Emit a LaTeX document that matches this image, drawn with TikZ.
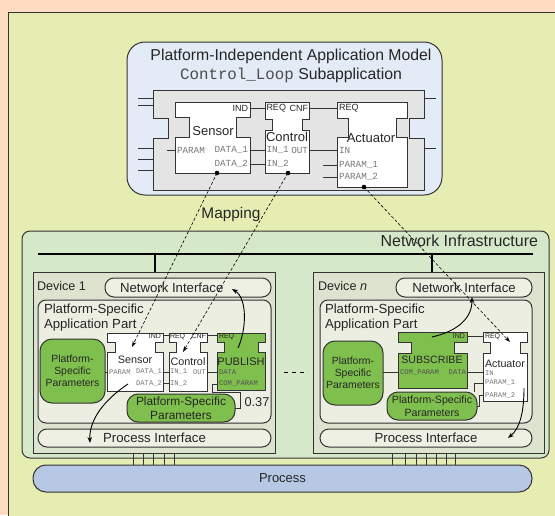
\documentclass[tikz,border=0pt]{standalone}
\usepackage{fontspec}
\setmainfont{Liberation Sans}
\setmonofont{Liberation Mono}
\usetikzlibrary{arrows.meta}

\definecolor{margin}{HTML}{FDDCC2}
\definecolor{panel}{HTML}{E5EDB2}
\definecolor{pimblue}{HTML}{E3EBF6}
\definecolor{subgray}{HTML}{E4E4E4}
\definecolor{netgreen}{HTML}{D6E8CA}
\definecolor{devfill}{HTML}{DEE3D0}
\definecolor{partfill}{HTML}{EBEEE1}
\definecolor{iffill}{HTML}{EDF0E3}
\definecolor{fbgreen}{HTML}{7FBF4D}
\definecolor{procblue}{HTML}{B6C8E4}
\definecolor{edge}{HTML}{333333}
\definecolor{ink}{HTML}{262626}
\definecolor{porttext}{HTML}{777777}

% function block outline: style, left, top, right, bottom, neck top, neck bottom, notch depth
\newcommand{\fbblock}[8]{%
  \draw[#1] (#2,#3) -- (#4,#3) -- (#4,#6) -- (#4-#8,#6) -- (#4-#8,#7) -- (#4,#7)
    -- (#4,#5) -- (#2,#5) -- (#2,#7) -- (#2+#8,#7) -- (#2+#8,#6) -- (#2,#6) -- cycle;}
\newcommand{\fsize}[2]{\fontsize{#1}{#2}\selectfont}

\tikzset{
  every node/.style={inner sep=0pt, outer sep=0pt, text=ink},
  frame/.style={draw=edge, line width=1pt},
  iface/.style={frame, fill=iffill, rounded corners=9pt, anchor=north west},
  greenbox/.style={frame, fill=fbgreen, anchor=north west, align=center},
  wire/.style={draw=edge, line width=0.8pt},
  bus/.style={draw=black, line width=1.5pt},
  mapline/.style={draw=black, line width=0.6pt, dash pattern=on 3pt off 2pt,
    -{Stealth[length=6pt,width=4pt]}},
  flow/.style={draw=black, line width=0.9pt, -{Stealth[length=6pt,width=4.5pt]}},
  biglbl/.style={font=\fsize{13.2}{15}},
  fbname/.style={font=\fsize{10.8}{12}},
  topname/.style={font=\fsize{13}{15}},
  evt/.style={font=\fsize{7}{8}},
  topevt/.style={font=\fsize{9}{10}},
  port/.style={font=\fsize{7.2}{8}\ttfamily, text=porttext},
  topport/.style={font=\fsize{9.3}{10}\ttfamily, text=porttext},
}

\begin{document}
\begin{tikzpicture}[x=1pt,y=-1pt]
\useasboundingbox (0,0) rectangle (555,515);
\fill[margin] (0,0) rectangle (555,515);
\draw[frame, fill=panel] (8.5,12.5) rectangle (600,600);

% ---------------- platform-independent model ----------------
\node[frame, fill=pimblue, rounded corners=18pt, minimum width=315pt,
  minimum height=153pt, anchor=north west] (pim) at (127,42) {};
\node[font=\fsize{15.8}{18}] (pimtitle) at (291,56) {Platform-Independent Application Model};
\node[font=\fsize{15.8}{18}] (pimsub) at (291,75)
  {{\ttfamily\color{black!70}Control\_Loop} Subapplication};

\fbblock{frame, fill=subgray}{153}{90}{424}{190}{118}{138}{15}
\foreach \y in {98,105,148,159,170} \draw[wire] (138,\y) -- (153,\y);
\foreach \y in {98,148} \draw[wire] (424,\y) -- (436,\y);

\fbblock{frame, fill=white}{175}{102}{250}{173}{117}{137}{14}
\fbblock{frame, fill=white}{265}{102}{309}{173}{119}{130}{7}
\fbblock{frame, fill=white}{337}{102}{407}{187}{118}{137}{11}

% ports of the subapplication members
\coordinate (sIND) at (250,108);  \coordinate (cREQ) at (265,108);
\coordinate (cCNF) at (309,108);  \coordinate (aREQ) at (337,108);
\coordinate (sD1) at (250,150);   \coordinate (cI1) at (265,150);
\coordinate (sD2) at (250,164);   \coordinate (cI2) at (265,164);
\coordinate (cOUT) at (309,150);  \coordinate (aIN) at (337,150);
\coordinate (sPAR) at (175,150);  \coordinate (sPARin) at (167,150);
\coordinate (aP1) at (337,165);   \coordinate (aP1in) at (323,165);
\coordinate (aP2) at (337,177);   \coordinate (aP2in) at (323,177);

\draw[wire] (sIND) -- (cREQ);
\draw[wire] (cCNF) -- (aREQ);
\draw[wire] (sD1) -- (cI1);
\draw[wire] (sD2) -- (cI2);
\draw[wire] (cOUT) -- (aIN);
\draw[wire] (sPARin) -- (sPAR);
\draw[wire] (aP1in) -- (aP1);
\draw[wire] (aP2in) -- (aP2);

\node[topname] (tsensor) at (213,131) {Sensor};
\node[topname] (tcontrol) at (287,137) {Control};
\node[topname] (tactuator) at (371,138) {Actuator};
\node[topevt, anchor=east] (tsind) at (248,108) {IND};
\node[topevt, anchor=west] (tcreq) at (266.5,108) {REQ};
\node[topevt, anchor=east] (tccnf) at (308,108) {CNF};
\node[topevt, anchor=west] (tareq) at (339,108) {REQ};
\node[topport, anchor=west] (tspar) at (177,150) {PARAM};
\node[topport, anchor=east] (tsd1) at (248,150) {DATA\_1};
\node[topport, anchor=east] (tsd2) at (248,164) {DATA\_2};
\node[topport, anchor=west] (tci1) at (266.5,150) {IN\_1};
\node[topport, anchor=east] (tcout) at (308,150) {OUT};
\node[topport, anchor=west] (tci2) at (266.5,164) {IN\_2};
\node[topport, anchor=west] (tain) at (339,150) {IN};
\node[topport, anchor=west] (tap1) at (339,165) {PARAM\_1};
\node[topport, anchor=west] (tap2) at (339,177) {PARAM\_2};

\coordinate (mapS) at (217,173);
\coordinate (mapC) at (288,173);
\coordinate (mapA) at (364,187);
\foreach \c in {mapS,mapC,mapA} \fill[black] (\c) circle (2.3pt);

\node[font=\fsize{15.4}{18}] (mapping) at (231,215) {Mapping};

% ---------------- network infrastructure ----------------
\node[frame, fill=netgreen, rounded corners=8pt, minimum width=527pt,
  minimum height=227pt, anchor=north west] (net) at (22,231) {};
\node[font=\fsize{16}{18}, anchor=east] (netlbl) at (538,241) {Network Infrastructure};

\node[frame, fill=devfill, minimum width=242pt, minimum height=181pt,
  anchor=north west] (dev1) at (33,272) {};
\node[frame, fill=devfill, minimum width=231pt, minimum height=181pt,
  anchor=north west] (devn) at (313,272) {};

\coordinate (busL) at (38,254);
\coordinate (busR) at (533,254);
\coordinate (tap1) at (155,254);
\coordinate (tapn) at (432,254);
\draw[bus] (busL) -- (busR);
\draw[bus] (tap1) -- (tap1 |- dev1.north);
\draw[bus] (tapn) -- (tapn |- devn.north);

% ---------------- device 1 ----------------
\node[font=\fsize{12.6}{14}, anchor=west] (dev1lbl) at (37,286) {Device 1};
\node[iface, minimum width=166pt, minimum height=19pt] (ni1) at (105,278) {};
\node[biglbl, anchor=west] (ni1lbl) at (120,287.5) {Network Interface};
\node[frame, fill=partfill, rounded corners=8pt, minimum width=233pt,
  minimum height=123pt, anchor=north west] (part1) at (38,300) {};
\node[biglbl, anchor=north west, align=left] (part1lbl) at (44,304)
  {Platform-Specific\\Application Part};
\node[iface, minimum width=233pt, minimum height=18pt] (pi1) at (38,429) {};
\node[biglbl] (pi1lbl) at (pi1.center) {Process Interface};

\node[greenbox, rounded corners=12pt, minimum width=65pt, minimum height=64pt,
  font=\fsize{10.4}{12}] (psp1a) at (40,339) {Platform-\\Specific\\Parameters};
\node[greenbox, rounded corners=11pt, minimum width=108pt, minimum height=28pt,
  font=\fsize{11.9}{14}] (psp1b) at (127,394) {Platform-Specific\\Parameters};
\node[font=\fsize{12.8}{14}] (val) at (257,402) {0.37};

\fbblock{frame, fill=white}{107}{333}{163}{391}{342}{352}{8}
\fbblock{frame, fill=white}{169}{333}{207}{391}{342}{352}{7}
\fbblock{frame, fill=fbgreen}{217}{333}{265}{390}{342}{352}{7}

\coordinate (s1IND) at (163,335.5); \coordinate (c1REQ) at (169,335.5);
\coordinate (c1CNF) at (207,335.5); \coordinate (pREQ) at (217,335.5);
\coordinate (s1D1) at (163,372);    \coordinate (c1I1) at (169,372);
\coordinate (s1D2) at (163,383);    \coordinate (c1I2) at (169,383);
\coordinate (c1OUT) at (207,372);   \coordinate (pDATA) at (217,372);
\coordinate (s1PAR) at (107,372);   \coordinate (pCP) at (217,384);

\draw[wire] (s1IND) -- (c1REQ);
\draw[wire] (c1CNF) -- (pREQ);
\draw[wire] (s1D1) -- (c1I1);
\draw[wire] (s1D2) -- (c1I2);
\draw[wire] (c1OUT) -- (pDATA);
\draw[wire] (psp1a.east |- s1PAR) -- (s1PAR);
\draw[wire] (pCP) -- ++(-5,0) -- ++(0,8) -- ++(28,0) |- (psp1b.east);

\node[evt, anchor=east] (s1ind) at (161,336.5) {IND};
\node[fbname] (s1name) at (135,360) {Sensor};
\node[port, anchor=west] (s1par) at (109,372) {PARAM};
\node[port, anchor=east] (s1d1) at (162,372) {DATA\_1};
\node[port, anchor=east] (s1d2) at (162,383) {DATA\_2};
\node[evt, anchor=west] (c1req) at (170,336.5) {REQ};
\node[evt, anchor=east] (c1cnf) at (206,336.5) {CNF};
\node[fbname] (c1name) at (188,362) {Control};
\node[port, anchor=west] (c1i1) at (170,372) {IN\_1};
\node[port, anchor=east] (c1out) at (206,372) {OUT};
\node[port, anchor=west] (c1i2) at (170,383) {IN\_2};
\node[evt, anchor=west] (preq) at (219,336.5) {REQ};
\node[font=\fsize{11}{12}] (pname) at (241,362) {PUBLISH};
\node[port, anchor=west, text=ink!80] (pdata) at (219,372) {DATA};
\node[port, anchor=west, text=ink!80] (pcp) at (219,383) {COM\_PARAM};

\coordinate (pubOut) at (238,348);
\coordinate (ni1In) at (232,289);
\coordinate (s1Out) at (128,384);
\coordinate (pi1In) at (90,443);
\draw[flow] (pubOut) .. controls (247,328) and (247,298) .. (ni1In);
\draw[flow] (s1Out) .. controls (104,400) and (89,420) .. (pi1In);

% ---------------- device n ----------------
\node[font=\fsize{12.6}{14}, anchor=west] (devnlbl) at (318,286) {Device \textit{n}};
\node[iface, minimum width=136pt, minimum height=19pt] (nin) at (396,278) {};
\node[biglbl] (ninlbl) at (nin.center) {Network Interface};
\node[frame, fill=partfill, rounded corners=8pt, minimum width=212pt,
  minimum height=123pt, anchor=north west] (partn) at (320,300) {};
\node[biglbl, anchor=north west, align=left] (partnlbl) at (325,304)
  {Platform-Specific\\Application Part};
\node[iface, minimum width=212pt, minimum height=18pt] (pin) at (320,429) {};
\node[biglbl] (pinlbl) at (pin.center) {Process Interface};

\node[greenbox, rounded corners=12pt, minimum width=60pt, minimum height=64pt,
  font=\fsize{10.4}{12}] (psp2a) at (323,341) {Platform-\\Specific\\Parameters};
\node[greenbox, rounded corners=11pt, minimum width=90pt, minimum height=28pt,
  font=\fsize{10.6}{13.5}] (psp2b) at (387,392) {Platform-Specific\\Parameters};

\fbblock{frame, fill=fbgreen}{398}{332}{467}{388}{342}{353}{13}
\fbblock{frame, fill=white}{483}{332}{527}{401}{342}{353}{7}

\coordinate (subIND) at (467,336);  \coordinate (actREQ) at (483,336);
\coordinate (subDATA) at (467,372); \coordinate (actIN) at (483,372);
\coordinate (subCP) at (398,372);
\coordinate (actP1) at (483,383);   \coordinate (actP2) at (483,395);

\draw[wire] (subIND) -- (actREQ);
\draw[wire] (subDATA) -- (actIN);
\draw[wire] (psp2a.east |- subCP) -- (subCP);
\draw[wire] (actP1) -- ++(-9,0) |- (psp2b.north -| 474,0);
\draw[wire] (actP2) -- ++(-4,0) |- (psp2b.east);

\node[evt, anchor=east] (subind) at (465,336.5) {IND};
\node[font=\fsize{10.6}{12}] (subname) at (432,360) {SUBSCRIBE};
\node[port, anchor=west, text=ink!80] (subcp) at (400,372) {COM\_PARAM};
\node[port, anchor=east, text=ink!80] (subdata) at (466,372) {DATA};
\node[evt, anchor=west] (actreq) at (485,337) {REQ};
\node[font=\fsize{10.7}{12}] (actname) at (505,364) {Actuator};
\node[port, anchor=west] (actin) at (485,373) {IN};
\node[port, anchor=west] (actp1) at (485,383) {PARAM\_1};
\node[port, anchor=west] (actp2) at (485,395) {PARAM\_2};

\coordinate (subOut) at (432,337);
\coordinate (ninIn) at (472,297);
\coordinate (actOut) at (524,388);
\coordinate (pinIn) at (508,438);
\draw[flow] (subOut) .. controls (458,331) and (472,318) .. (ninIn);
\draw[flow] (actOut) .. controls (524,412) and (520,428) .. (pinIn);

% more devices in between
\draw[draw=black, line width=0.8pt, dash pattern=on 4pt off 4pt] (284,372) -- (308,372);

% ---------------- process ----------------
\node[frame, fill=procblue, rounded corners=13pt, minimum width=499pt,
  minimum height=27pt, anchor=north west, font=\fsize{13}{15}] (proc) at (33,465) {Process};
\foreach \x in {133,143.3,153.3,164,174}
  \draw[wire] (\x,0 |- dev1.south) -- (\x,0 |- proc.north);
\foreach \x in {392.3,405,416,426,436.7,446.7,455}
  \draw[wire] (\x,0 |- devn.south) -- (\x,0 |- proc.north);

% ---------------- mapping to devices ----------------
\coordinate (s1In) at (132,347);
\coordinate (c1In) at (183,352);
\coordinate (actInMap) at (510,342);
\draw[mapline] (mapS) -- (s1In);
\draw[mapline] (mapC) -- (c1In);
\draw[mapline] (mapA) -- (actInMap);
\end{tikzpicture}
\end{document}
